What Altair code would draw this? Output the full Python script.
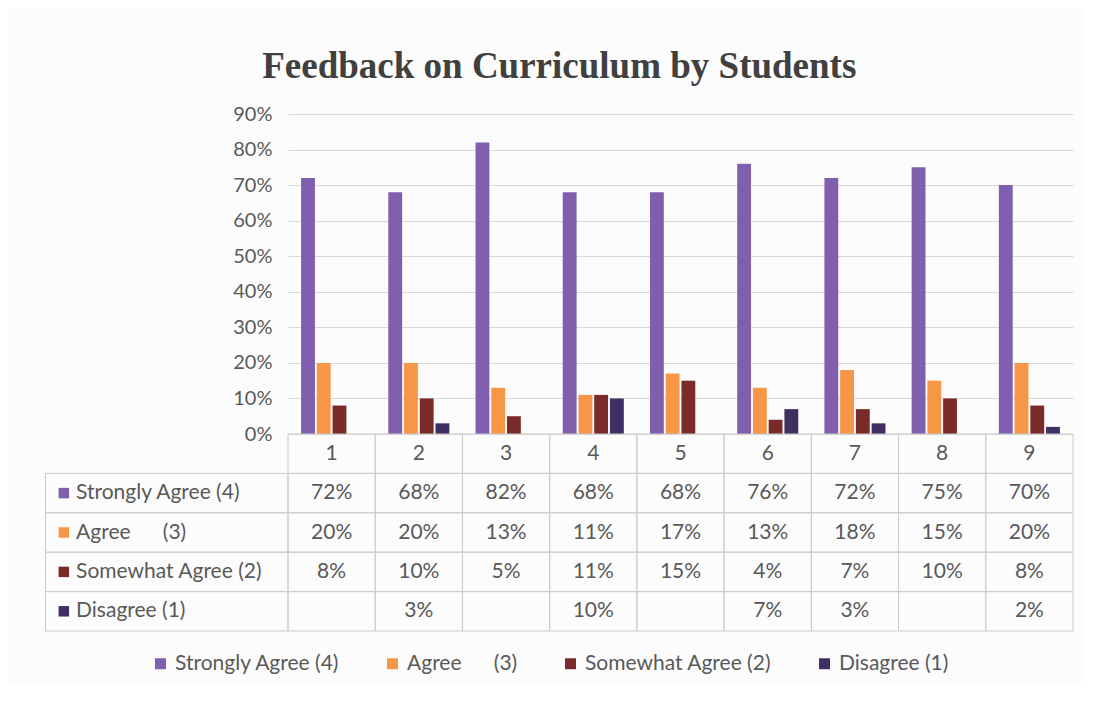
import altair as alt
import pandas as pd

categories = ["1", "2", "3", "4", "5", "6", "7", "8", "9"]
series = [
    "Strongly Agree (4)",
    "Agree\u00a0\u00a0\u00a0\u00a0\u00a0\u00a0(3)",
    "Somewhat Agree (2)",
    "Disagree (1)",
]
strongly_agree = [72, 68, 82, 68, 68, 76, 72, 75, 70]
agree = [20, 20, 13, 11, 17, 13, 18, 15, 20]
somewhat_agree = [8, 10, 5, 11, 15, 4, 7, 10, 8]
disagree = [None, 3, None, 10, None, 7, 3, None, 2]
y_ticks = [0, 0.1, 0.2, 0.3, 0.4, 0.5, 0.6, 0.7, 0.8, 0.9]

colors = ["#7f5fae", "#f79646", "#7b2a2a", "#3f2f62"]
FONT = "Lato"
TXT = "#595959"
GRID = "#cccccc"
LABEL_W = 2.78  # width of the row-header column, in table-column units

values_by_series = [strongly_agree, agree, somewhat_agree, disagree]
rows = []
for si, (s, vals) in enumerate(zip(series, values_by_series)):
    for ci, (q, v) in enumerate(zip(categories, vals)):
        rows.append({
            "Question": q,
            "Series": s,
            "Value": None if v is None else v / 100,
            "label": "" if v is None else f"{v}%",
            "col": ci + 0.5,
            "row": si + 1.5,
        })
df = pd.DataFrame(rows)

color_enc = alt.Color(
    "Series:N",
    sort=series,
    scale=alt.Scale(domain=series, range=colors),
    legend=alt.Legend(
        title=None, orient="none", direction="horizontal",
        legendX=-138, legendY=539,
        symbolType="square", symbolSize=120, symbolStrokeWidth=0,
        labelFont=FONT, labelFontSize=21, labelColor=TXT, labelOffset=4,
        columnPadding=42, labelLimit=300,
    ),
)

bars = (
    alt.Chart(df)
    .transform_filter("datum.Value != null")
    .mark_bar()
    .encode(
        x=alt.X("Question:N", sort=categories, axis=None,
                scale=alt.Scale(paddingInner=0.3, paddingOuter=0.15)),
        xOffset=alt.XOffset("Series:N", sort=series,
                            scale=alt.Scale(domain=series, paddingInner=0.12)),
        y=alt.Y("Value:Q", title=None,
                scale=alt.Scale(domain=[0, 0.9], nice=False),
                axis=alt.Axis(format=".0%", values=y_ticks, domain=False, ticks=False,
                              labelPadding=16, labelFont=FONT, labelFontSize=20,
                              labelColor=TXT, gridColor="#d9d9d9", gridWidth=1)),
        color=color_enc,
    )
    .properties(width=785, height=320)
)

# table grid cells
cells = []
for ci in range(len(categories)):
    for r in range(len(series) + 1):
        cells.append({"x0": ci, "x1": ci + 1, "y0": r, "y1": r + 1})
for r in range(1, len(series) + 1):
    cells.append({"x0": -LABEL_W, "x1": 0, "y0": r, "y1": r + 1})
cells_df = pd.DataFrame(cells)

header_df = pd.DataFrame({"Question": categories,
                          "col": [i + 0.5 for i in range(len(categories))],
                          "row": [0.5] * len(categories)})
rowhead_df = pd.DataFrame({"Series": series,
                           "row": [i + 1.5 for i in range(len(series))],
                           "sx": [-LABEL_W + 0.21] * len(series),
                           "tx": [-LABEL_W + 0.35] * len(series)})

xs = alt.Scale(domain=[0, 9], nice=False, zero=False)
ys = alt.Scale(domain=[0, 5], nice=False, zero=False, reverse=True)

grid = alt.Chart(cells_df).mark_rect(fill=None, stroke=GRID, strokeWidth=1).encode(
    x=alt.X("x0:Q", scale=xs, axis=None), x2="x1:Q",
    y=alt.Y("y0:Q", scale=ys, axis=None), y2="y1:Q",
)
header_text = alt.Chart(header_df).mark_text(font=FONT, fontSize=21, color=TXT).encode(
    x=alt.X("col:Q", scale=xs, axis=None), y=alt.Y("row:Q", scale=ys, axis=None), text="Question:N",
)
cell_text = alt.Chart(df).mark_text(font=FONT, fontSize=21, color=TXT).encode(
    x=alt.X("col:Q", scale=xs, axis=None), y=alt.Y("row:Q", scale=ys, axis=None), text="label:N",
)
row_squares = alt.Chart(rowhead_df).mark_square(size=110, opacity=1).encode(
    x=alt.X("sx:Q", scale=xs, axis=None), y=alt.Y("row:Q", scale=ys, axis=None),
    color=color_enc,
)
row_text = alt.Chart(rowhead_df).mark_text(font=FONT, fontSize=21, color=TXT, align="left").encode(
    x=alt.X("tx:Q", scale=xs, axis=None), y=alt.Y("row:Q", scale=ys, axis=None), text="Series:N",
)

table = alt.layer(grid, header_text, cell_text, row_squares, row_text).properties(width=785, height=197)

chart = (
    alt.vconcat(bars, table, spacing=0, bounds="flush")
    .properties(
        title=alt.Title("Feedback on Curriculum by Students", font="Liberation Serif",
                        fontSize=37, fontWeight="bold", color="#404040", anchor="middle",
                        offset=18),
        padding={"left": 37, "top": 40, "right": 10, "bottom": 10},
        background="#fcfcfc",
    )
    .configure_view(stroke=None)
)

chart.save("out.html", embed_options={"renderer": "svg", "actions": False})
